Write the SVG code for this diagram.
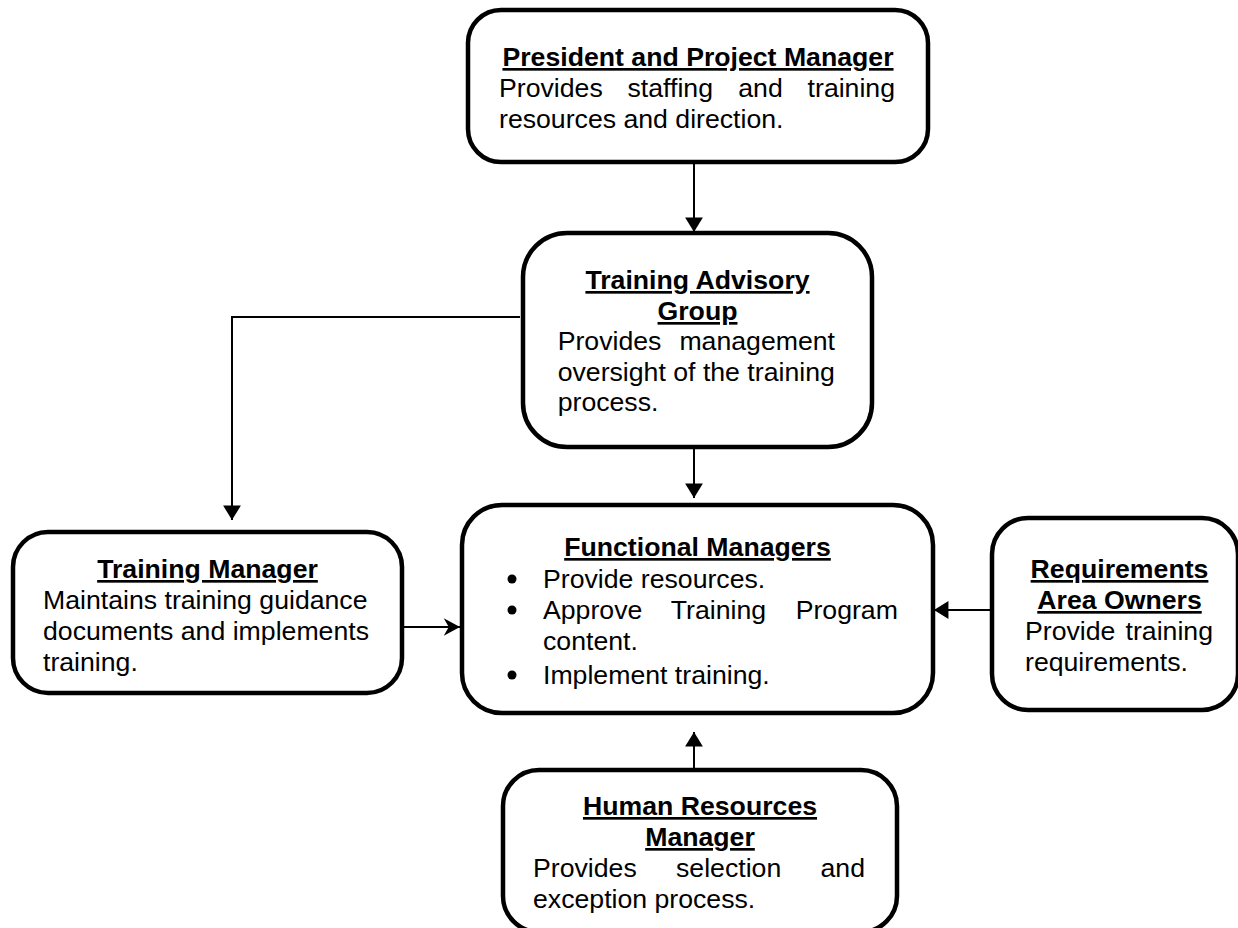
<svg xmlns="http://www.w3.org/2000/svg" width="1238" height="928" viewBox="0 0 1238 928">
<style>
.box{fill:#fff;stroke:#000;stroke-width:4.5}
text{font-family:"Liberation Sans",Arial,sans-serif;font-size:26.67px;fill:#000}
.t{font-weight:bold;text-anchor:middle;text-decoration:underline}
.e{text-anchor:end}
.conn{fill:none;stroke:#000;stroke-width:2}
</style>
<defs>
<marker id="tri" markerUnits="userSpaceOnUse" markerWidth="20" markerHeight="20" refX="13" refY="0" viewBox="0 -9 14 18" orient="auto">
<path d="M0,-8 L13,0 L0,8 z" fill="#000"/>
</marker>
<marker id="stl" markerUnits="userSpaceOnUse" markerWidth="20" markerHeight="20" refX="13" refY="0" viewBox="0 -8 14 16" orient="auto">
<path d="M0,-7 L13,0 L0,7 L4,0 z" fill="#000"/>
</marker>
</defs>
<g id="connectors">
<path class="conn" d="M694,163 L694,232" marker-end="url(#tri)"/>
<path class="conn" d="M694,449 L694,498" marker-end="url(#tri)"/>
<path class="conn" d="M520,317 L232,317 L232,520" marker-end="url(#tri)"/>
<path class="conn" d="M404,627 L460,627" marker-end="url(#stl)"/>
<path class="conn" d="M990,610 L934,610" marker-end="url(#tri)"/>
<path class="conn" d="M694,769 L694,732" marker-end="url(#tri)"/>
</g>
<g id="president">
<rect class="box" x="468" y="10" width="460" height="152" rx="33"/>
<text class="t" x="698" y="66">President and Project Manager</text>
<text y="97"><tspan x="499">Provides</tspan><tspan x="627.5">staffing</tspan><tspan x="738.3">and</tspan><tspan x="807.6">training</tspan></text>
<text x="499" y="128">resources and direction.</text>
</g>
<g id="advisory">
<rect class="box" x="523" y="233" width="349" height="214" rx="44"/>
<text class="t" x="697.5" y="289">Training Advisory</text>
<text class="t" x="697.5" y="320">Group</text>
<text x="557.7" y="350">Provides</text>
<text class="e" x="835" y="350">management</text>
<text x="557.7" y="381">oversight of the training</text>
<text x="557.7" y="411">process.</text>
</g>
<g id="training-manager">
<rect class="box" x="13" y="532" width="389" height="161" rx="35"/>
<text class="t" x="207.5" y="578">Training Manager</text>
<text x="43" y="609">Maintains training guidance</text>
<text x="43" y="640">documents and implements</text>
<text x="43" y="671">training.</text>
</g>
<g id="functional">
<rect class="box" x="462" y="505" width="471" height="208" rx="40"/>
<text class="t" x="697.5" y="556">Functional Managers</text>
<circle cx="512" cy="579" r="4.5"/>
<circle cx="512" cy="610" r="4.5"/>
<circle cx="512" cy="675" r="4.5"/>
<text x="543" y="588">Provide resources.</text>
<text y="619"><tspan x="543">Approve</tspan><tspan x="670.8">Training</tspan><tspan x="795.7">Program</tspan></text>
<text x="543" y="650">content.</text>
<text x="543" y="684">Implement training.</text>
</g>
<g id="requirements">
<rect class="box" x="992" y="518" width="246" height="192" rx="36"/>
<text class="t" x="1119.5" y="578">Requirements</text>
<text class="t" x="1119.5" y="609">Area Owners</text>
<text x="1025" y="640">Provide</text>
<text class="e" x="1213" y="640">training</text>
<text x="1025" y="671">requirements.</text>
</g>
<g id="human-resources">
<rect class="box" x="503" y="770" width="394" height="162" rx="36"/>
<text class="t" x="700" y="815">Human Resources</text>
<text class="t" x="700" y="846">Manager</text>
<text y="877"><tspan x="533">Provides</tspan><tspan x="676">selection</tspan></text>
<text class="e" x="865" y="877">and</text>
<text x="533" y="908">exception process.</text>
</g>
</svg>
